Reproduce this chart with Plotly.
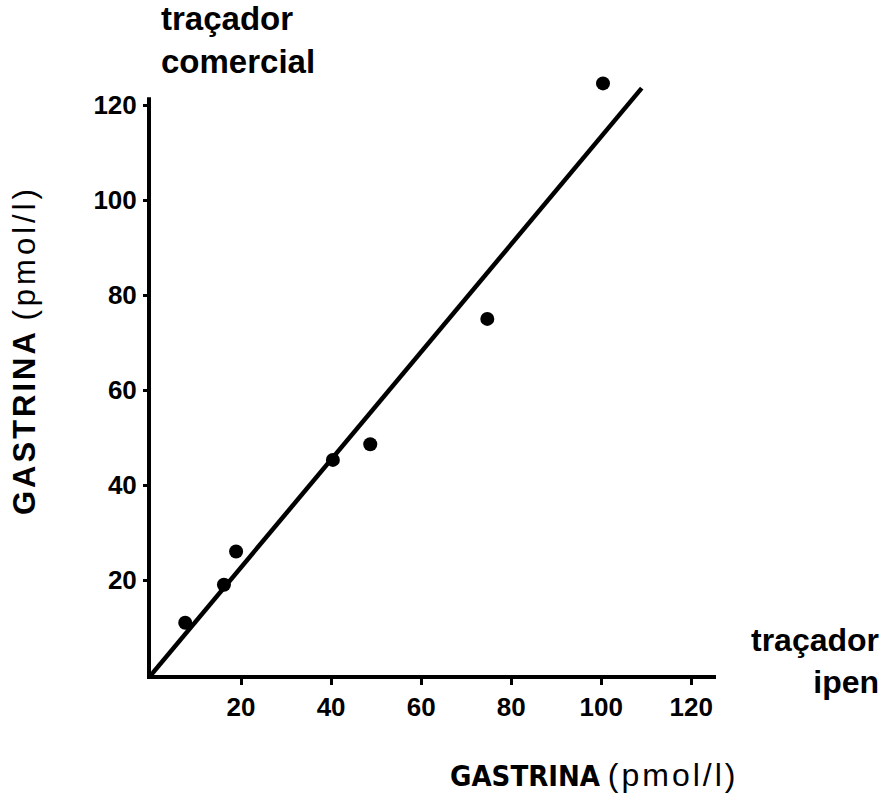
import plotly.graph_objects as go

# Data
ipen_x = [7.6, 16.2, 18.9, 40.4, 48.7, 74.7, 100.4]
comercial_y = [11.0, 19.0, 26.0, 45.3, 48.6, 75.0, 124.6]
fit_x = [0.0, 109.0]
fit_y = [0.0, 123.6]
tick_vals = [20, 40, 60, 80, 100, 120]
tick_text = ["20", "40", "60", "80", "100", "120"]
y_axis_top = 121.7

W, H = 887, 799
ML, MR, MT, MB = 151, 171, 72, 124
X_MAX, Y_MAX = 125.5, 127
PW, PH = W - ML - MR, H - MT - MB

def paper(px, py):
    return (px - ML) / PW, (H - MB - py) / PH

fig = go.Figure()
fig.add_trace(go.Scatter(x=fit_x, y=fit_y, mode="lines",
                         line=dict(color="black", width=4.5),
                         cliponaxis=False, showlegend=False))
fig.add_trace(go.Scatter(x=ipen_x, y=comercial_y, mode="markers",
                         marker=dict(color="black", size=14),
                         cliponaxis=False, showlegend=False))

axis_common = dict(linewidth=4, linecolor="black",
                   ticks="outside", tickwidth=3, tickcolor="black",
                   showgrid=False, zeroline=False,
                   tickvals=tick_vals, ticktext=tick_text,
                   tickfont=dict(family="Liberation Sans, Arial, sans-serif",
                                 size=26, color="black", weight="bold"))
fig.update_xaxes(range=[0, X_MAX], showline=True, ticklen=6, ticklabelstandoff=0, **axis_common)
fig.update_yaxes(range=[0, Y_MAX], showline=False, ticklen=7, ticklabelstandoff=1, **axis_common)

# y axis line stops just above the 120 tick
fig.add_shape(type="line", xref="paper", yref="paper",
              x0=-2 / PW, x1=-2 / PW, y0=-4 / PH, y1=y_axis_top / Y_MAX,
              line=dict(color="black", width=4))

cond = "font-family:'DejaVu Sans',sans-serif;font-stretch:condensed;font-weight:bold"
annos = []
x0, y0 = paper(159, 40)
annos.append(dict(x=x0, y=y0, xref="paper", yref="paper", xanchor="left", yanchor="middle",
                  text="traçador<br>comercial", align="left", showarrow=False,
                  font=dict(family="Liberation Sans, Arial", size=33, color="black", weight="bold")))
x1, y1 = paper(881, 661)
annos.append(dict(x=x1, y=y1, xref="paper", yref="paper", xanchor="right", yanchor="middle",
                  text="traçador<br>ipen", align="right", showarrow=False,
                  font=dict(family="Liberation Sans, Arial", size=32, color="black", weight="bold")))
x2, y2 = paper(740, 775)
annos.append(dict(x=x2, y=y2, xref="paper", yref="paper", xanchor="right", yanchor="middle",
                  text=(f"<span style=\"{cond};font-size:29px\">GASTRINA</span> "
                        "<span style=\"letter-spacing:3px;font-size:32px\">(pmol/l)</span>"),
                  showarrow=False,
                  font=dict(family="Liberation Sans, Arial", size=28, color="black")))
x3, y3 = paper(24, 350)
annos.append(dict(x=x3, y=y3, xref="paper", yref="paper", xanchor="center", yanchor="middle",
                  text=("<span style=\"font-weight:bold;letter-spacing:3px\">GASTRINA</span> "
                        "<span style=\"letter-spacing:4px\">(pmol/l)</span>"),
                  showarrow=False, textangle=-90,
                  font=dict(family="Liberation Sans, Arial", size=31, color="black")))

fig.update_layout(width=W, height=H, margin=dict(l=ML, r=MR, t=MT, b=MB),
                  plot_bgcolor="white", paper_bgcolor="white",
                  annotations=annos, showlegend=False)
fig.write_html("out.html")
